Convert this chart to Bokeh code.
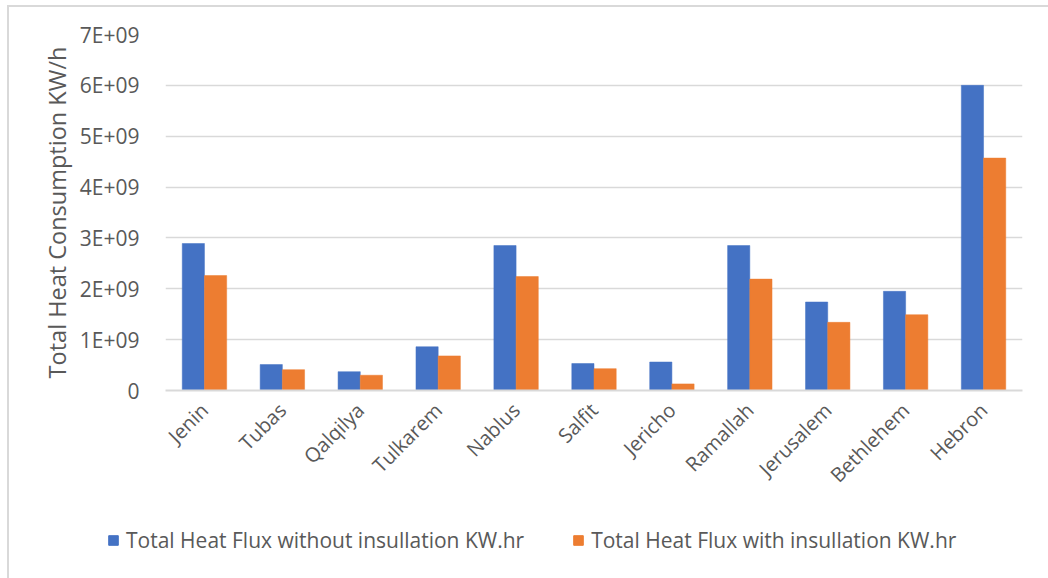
from math import pi

from bokeh.embed import file_html
from bokeh.resources import INLINE
from bokeh.plotting import figure
from bokeh.layouts import column
from bokeh.models import ColumnDataSource, FactorRange, FixedTicker, Legend, LegendItem
from bokeh.transform import dodge

# Governorates on the category axis
cities = ["Jenin", "Tubas", "Qalqilya", "Tulkarem", "Nablus", "Salfit",
          "Jericho", "Ramallah", "Jerusalem", "Bethlehem", "Hebron"]

# Total heat flux per governorate (KW.hr)
without_insulation = [2.89e9, 0.51e9, 0.37e9, 0.86e9, 2.85e9, 0.53e9,
                      0.56e9, 2.85e9, 1.74e9, 1.95e9, 6.00e9]
with_insulation = [2.26e9, 0.41e9, 0.30e9, 0.68e9, 2.24e9, 0.43e9,
                   0.13e9, 2.19e9, 1.34e9, 1.49e9, 4.57e9]

series_names = ["Total Heat Flux without insullation KW.hr",
                "Total Heat Flux with insullation KW.hr"]

y_ticks = [0, 1e9, 2e9, 3e9, 4e9, 5e9, 6e9, 7e9]
y_tick_labels = ["0", "1E+09", "2E+09", "3E+09", "4E+09", "5E+09", "6E+09", "7E+09"]

BLUE = "#4472C4"
ORANGE = "#ED7D31"
GRID = "#d9d9d9"
TEXT = "#595959"
FONT = "Open Sans"

source = ColumnDataSource(dict(city=cities, without=without_insulation,
                               with_=with_insulation))

W = 1039          # inner width of the bordered chart area
H_CHART = 503     # bars + axes
H_KEY = 68        # series key strip

p = figure(width=W, height=H_CHART, output_backend="svg", toolbar_location=None,
           x_range=FactorRange(factors=cities, range_padding=0),
           y_range=(0, 7e9),
           min_border_left=156, min_border_right=26,
           min_border_top=27, min_border_bottom=120)

p.outline_line_color = None
p.background_fill_color = "white"
p.border_fill_color = "white"

bar_w = 0.285
bar_style = dict(width=bar_w, source=source, line_width=0.5)
p.vbar(x=dodge("city", -bar_w / 2, range=p.x_range), top="without",
       fill_color=BLUE, line_color=BLUE, **bar_style)
p.vbar(x=dodge("city", bar_w / 2, range=p.x_range), top="with_",
       fill_color=ORANGE, line_color=ORANGE, **bar_style)

# Y axis: scientific labels, no line or ticks
p.yaxis.ticker = FixedTicker(ticks=y_ticks)
p.yaxis.major_label_overrides = {int(t): lab for t, lab in zip(y_ticks, y_tick_labels)}
p.yaxis.axis_line_color = None
p.yaxis.major_tick_line_color = None
p.yaxis.minor_tick_line_color = None
p.yaxis.major_label_standoff = 20
p.yaxis.major_label_text_font = FONT
p.yaxis.major_label_text_font_size = "21px"
p.yaxis.major_label_text_color = TEXT
p.yaxis.axis_label = "Total Heat Consumption KW/h"
p.yaxis.axis_label_text_font = FONT
p.yaxis.axis_label_text_font_size = "23.5px"
p.yaxis.axis_label_text_font_style = "normal"
p.yaxis.axis_label_text_color = TEXT
p.yaxis.axis_label_standoff = 4

# X axis: rotated governorate names
p.xaxis.axis_line_color = GRID
p.xaxis.axis_line_width = 2
p.xaxis.major_tick_line_color = None
p.xaxis.minor_tick_line_color = None
p.xaxis.major_label_orientation = pi / 4
p.xaxis.major_label_standoff = 10
p.xaxis.major_label_text_font = FONT
p.xaxis.major_label_text_font_size = "20px"
p.xaxis.major_label_text_color = TEXT

p.xgrid.grid_line_color = None
p.ygrid.grid_line_color = GRID
p.ygrid.grid_line_width = 1.6

# Series key: a strip below the chart whose legend swatches come from
# hidden copies of the two bar series
key = figure(width=W, height=H_KEY, output_backend="svg", toolbar_location=None,
             x_range=p.x_range, y_range=(0, 7e9),
             x_axis_type=None, y_axis_type=None,
             min_border_left=0, min_border_right=0,
             min_border_top=0, min_border_bottom=0)
key.frame_align = False
key.outline_line_color = None
key.grid.visible = False
k1 = key.vbar(x="city", top="without", fill_color=BLUE, line_color=BLUE,
              width=bar_w, source=source, visible=False)
k2 = key.vbar(x="city", top="with_", fill_color=ORANGE, line_color=ORANGE,
              width=bar_w, source=source, visible=False)

legend = Legend(items=[LegendItem(label=series_names[0], renderers=[k1]),
                       LegendItem(label=series_names[1], renderers=[k2])],
                location=(98, 24), orientation="horizontal",
                padding=0, margin=0, spacing=48,
                glyph_width=12, glyph_height=12, label_standoff=7,
                label_text_font=FONT, label_text_font_size="21px",
                label_text_color=TEXT, border_line_color=None,
                background_fill_alpha=0)
key.add_layout(legend, "center")

layout = column(p, key, spacing=0,
                styles={"margin-left": "7px", "margin-top": "5px",
                        "border-left": "2px solid #d9d9d9",
                        "border-top": "2px solid #d9d9d9"})

open("out.html", "w").write(file_html(layout, INLINE))
